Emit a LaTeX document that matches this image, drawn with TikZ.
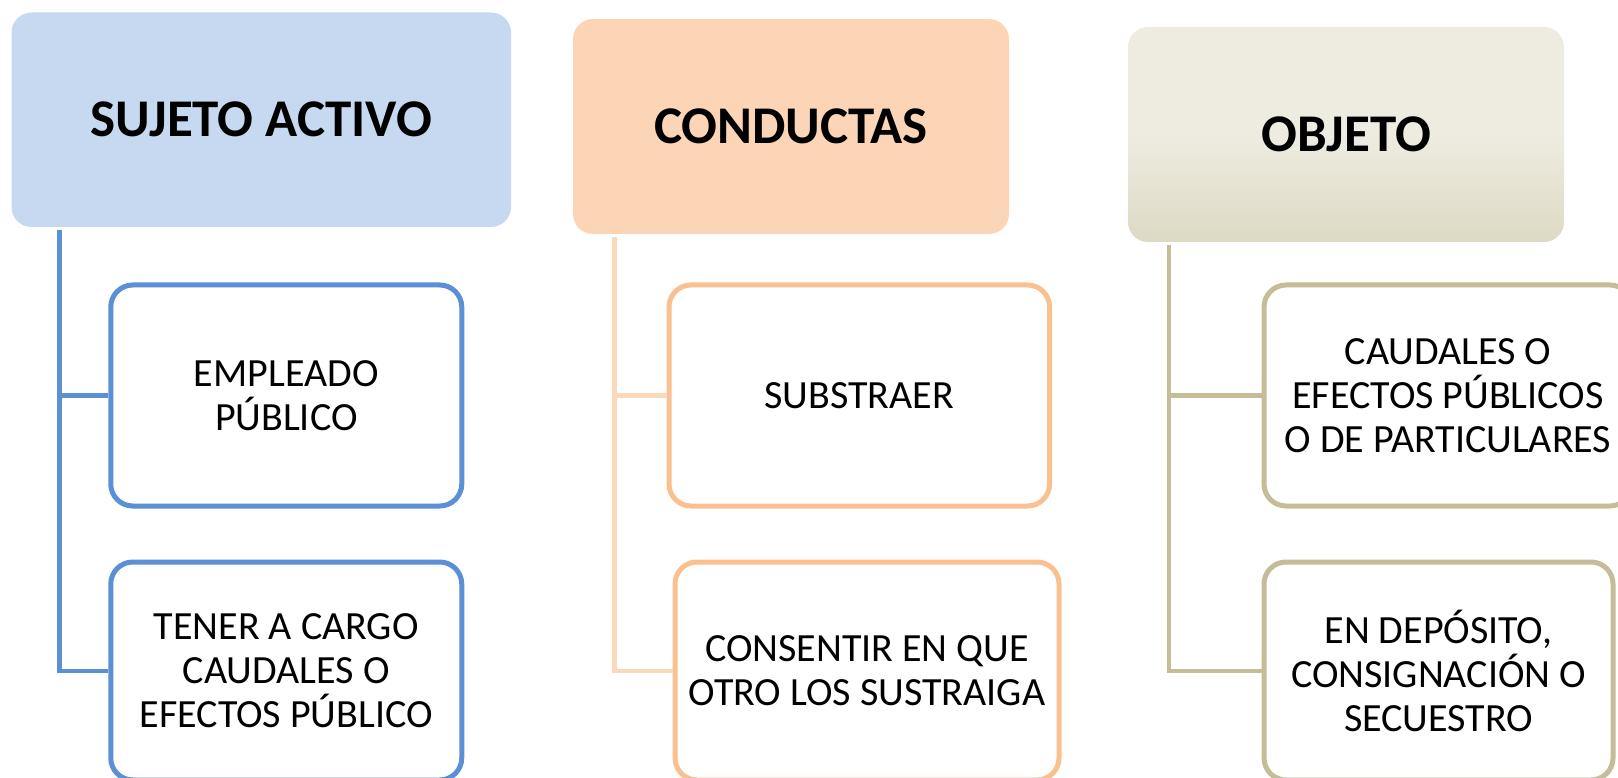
\documentclass[tikz,border=0pt]{standalone}
\usepackage{fontspec}
\setmainfont{Carlito}
\definecolor{hblue}{HTML}{C6D9F1}
\definecolor{bblue}{HTML}{5B8FD6}
\definecolor{hpeach}{HTML}{FBD5B5}
\definecolor{bpeach}{HTML}{FAC090}
\definecolor{lpeach}{HTML}{FCD8BA}
\definecolor{htop}{HTML}{EEECE1}
\definecolor{hbot}{HTML}{DDD9C4}
\definecolor{btan}{HTML}{C4BD97}
\tikzset{
  hdr/.style={rounded corners=20pt, inner sep=0pt, align=center,
    font=\fontsize{53}{60}\selectfont\bfseries},
  child/.style={rounded corners=22pt, inner sep=0pt, align=center, fill=white,
    line width=5pt, font=\fontsize{40}{44}\selectfont},
  conn/.style={line width=4.5pt}
}
\begin{document}
\begin{tikzpicture}[x=1pt,y=-1pt]
\useasboundingbox (0,0) rectangle (1618,778);
\clip (0,0) rectangle (1618,778);
% headers
\node[hdr, fill=hblue, minimum width=499.5pt, minimum height=214.5pt] (h1) at (261.25,119.75) {SUJETO ACTIVO};
\node[hdr, fill=hpeach, minimum width=436pt, minimum height=215pt] (h2) at (791,126.5) {CONDUCTAS};
\node[hdr, top color=htop, bottom color=hbot, middle color=htop, minimum width=436pt, minimum height=215pt] (h3) at (1346,134.5) {OBJETO};
% children
\node[child, draw=bblue, minimum width=351pt, minimum height=221pt] (c1) at (286.25,395.5) {EMPLEADO\\PÚBLICO};
\node[child, draw=bblue, minimum width=351pt, minimum height=218pt] (c2) at (286.25,671) {TENER A CARGO\\CAUDALES O\\EFECTOS PÚBLICO};
\node[child, draw=bpeach, minimum width=380.6pt, minimum height=221pt] (c3) at (859.3,395.5) {SUBSTRAER};
\node[child, draw=bpeach, minimum width=384pt, minimum height=218pt] (c4) at (867,671) {CONSENTIR EN QUE\\OTRO LOS SUSTRAIGA};
\node[child, draw=btan, minimum width=368pt, minimum height=221pt] (c5) at (1448,395.5) {CAUDALES O\\EFECTOS PÚBLICOS\\O DE PARTICULARES};
\node[child, draw=btan, minimum width=349pt, minimum height=218pt] (c6) at (1438.5,671) {EN DEPÓSITO,\\CONSIGNACIÓN O\\SECUESTRO};
% trunk tops
\coordinate (t1) at (59.6,230);
\coordinate (t2) at (614.6,237);
\coordinate (t3) at (1169,245);
% connectors
\draw[conn, draw=bblue] (t1) |- (c1.west);
\draw[conn, draw=bblue] (t1) |- (c2.west);
\draw[conn, draw=lpeach] (t2) |- (c3.west);
\draw[conn, draw=lpeach] (t2) |- (c4.west);
\draw[conn, draw=btan] (t3) |- (c5.west);
\draw[conn, draw=btan] (t3) |- (c6.west);
\end{tikzpicture}
\end{document}
